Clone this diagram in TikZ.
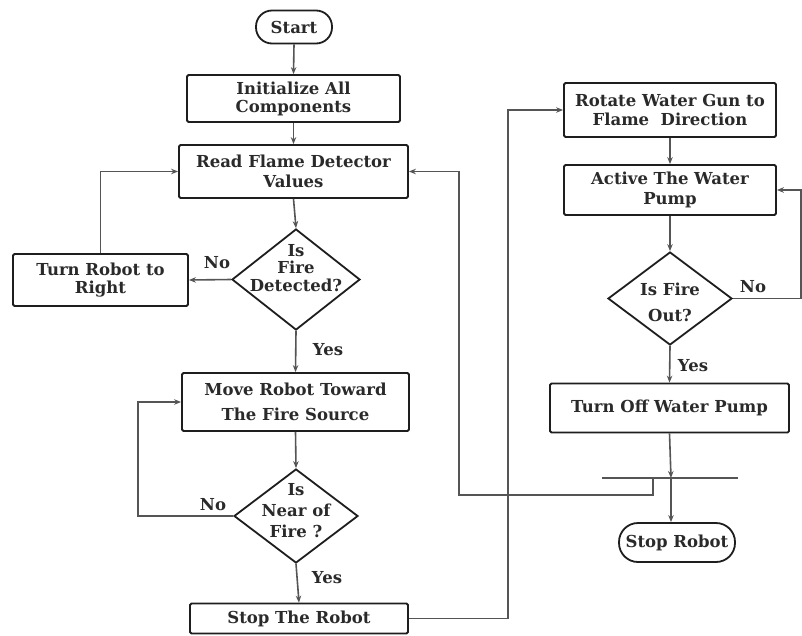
\documentclass[tikz,border=0pt]{standalone}
\usepackage{fontspec}
\setmainfont{DejaVu Serif}
\usetikzlibrary{shapes.geometric,arrows.meta}
\newcommand\figfont{\fontsize{16.5}{19.5}\selectfont\bfseries}
\definecolor{conn}{HTML}{555555}
\definecolor{edge}{HTML}{1E1E1E}
\definecolor{txt}{HTML}{2A2A2A}
\begin{document}
\begin{tikzpicture}[x=1pt,y=-1pt,
  box/.style={draw=edge,line width=1.8pt,rounded corners=1.5pt,align=center,inner sep=0pt,font=\figfont,text=txt},
  term/.style={box,rounded corners=16pt},
  dia/.style={draw=edge,line width=1.8pt,shape=diamond,inner sep=0pt},
  dtext/.style={align=center,font=\figfont,text=txt,inner sep=0pt},
  lbl/.style={font=\figfont,text=txt,inner sep=0pt},
  conn/.style={draw=conn,line width=1.6pt},
  arr/.style={conn,-{Stealth[length=7pt,width=5.5pt]}}
]
\useasboundingbox (0,0) rectangle (802,635);
\fill[white] (0,0) rectangle (802,635);

% left column
\node[term,minimum width=76pt,minimum height=33pt] (start) at (294,27) {Start};
\node[box,minimum width=213pt,minimum height=47pt,font=\figfont\linespread{0.92}\selectfont] (init) at (293.5,98.5) {Initialize All\\Components};
\node[box,minimum width=229pt,minimum height=53pt] (read) at (293.5,171.5) {Read Flame Detector\\Values};
\node[dia,minimum width=128pt,minimum height=101pt] (d1) at (296,279.5) {};
\node[dtext,font=\fontsize{16.5}{17.5}\selectfont\bfseries] (d1t) at (296,268) {Is\\Fire\\Detected?};
\node[box,minimum width=175pt,minimum height=52pt,font=\fontsize{16.5}{17.5}\selectfont\bfseries] (turn) at (100.5,280) {Turn Robot to\\Right};
\node[box,minimum width=227pt,minimum height=58pt,font=\fontsize{16.5}{25}\selectfont\bfseries] (move) at (295.5,402) {Move Robot Toward\\The Fire Source};
\node[dia,minimum width=124pt,minimum height=94pt] (d2) at (296,516) {};
\node[dtext,font=\fontsize{16.5}{21}\selectfont\bfseries] (d2t) at (296,511) {Is\\Near of\\Fire ?};
\node[box,minimum width=218pt,minimum height=30pt] (stop) at (299,618.5) {Stop The Robot};

% right column
\node[box,minimum width=212pt,minimum height=54pt] (rot) at (670,110) {Rotate Water Gun to\\Flame\ \ Direction};
\node[box,minimum width=212pt,minimum height=50pt] (act) at (670,190) {Active The Water\\Pump};
\node[dia,minimum width=124pt,minimum height=93pt] (d3) at (670,298.5) {};
\node[dtext,font=\fontsize{16.5}{26}\selectfont\bfseries] (d3t) at (670,302) {Is Fire\\Out?};
\node[box,minimum width=239pt,minimum height=49pt] (off) at (669.5,408) {Turn Off Water Pump};
\node[term,minimum width=116pt,minimum height=39pt,rounded corners=19pt] (stopr) at (677,542.5) {Stop Robot};

\coordinate (barL) at (602,478);
\coordinate (barR) at (738,478);
\coordinate (j) at (671,478);
\coordinate (jb) at (653,478);

% connectors
\draw[arr] (start.south) -- (init.north);
\draw[arr] (init.south) -- (read.north);
\draw[arr] (read.south) -- (d1.north);
\draw[arr] (d1.west) -- (turn.east);
\draw[arr] (turn.north) |- (read.west);
\draw[arr] (d1.south) -- (move.north);
\draw[arr] (move.south) -- (d2.north);
\draw[arr] (d2.west) -- (138,516) |- (move.west);
\draw[arr] (d2.south) -- (stop.north);
\draw[arr] (stop.east) -- (508,618.5) |- (rot.west);
\draw[arr] (rot.south) -- (act.north);
\draw[arr] (act.south) -- (d3.north);
\draw[arr] (d3.east) -- (801,298.5) |- (act.east);
\draw[arr] (d3.south) -- (off.north);
\draw[conn,line width=1.4pt] (barL) -- (barR);
\draw[arr] (off.south) -- (j);
\draw[arr] (j) -- (j |- stopr.north);
\draw[arr] (jb) -- (653,495) -- (459,495) |- (read.east);

% labels
\node[lbl] (l1) at (217,263) {No};
\node[lbl] (l2) at (328,350) {Yes};
\node[lbl] (l3) at (213,505) {No};
\node[lbl] (l4) at (327,578) {Yes};
\node[lbl] (l5) at (753,287) {No};
\node[lbl] (l6) at (693,366) {Yes};
\end{tikzpicture}
\end{document}
